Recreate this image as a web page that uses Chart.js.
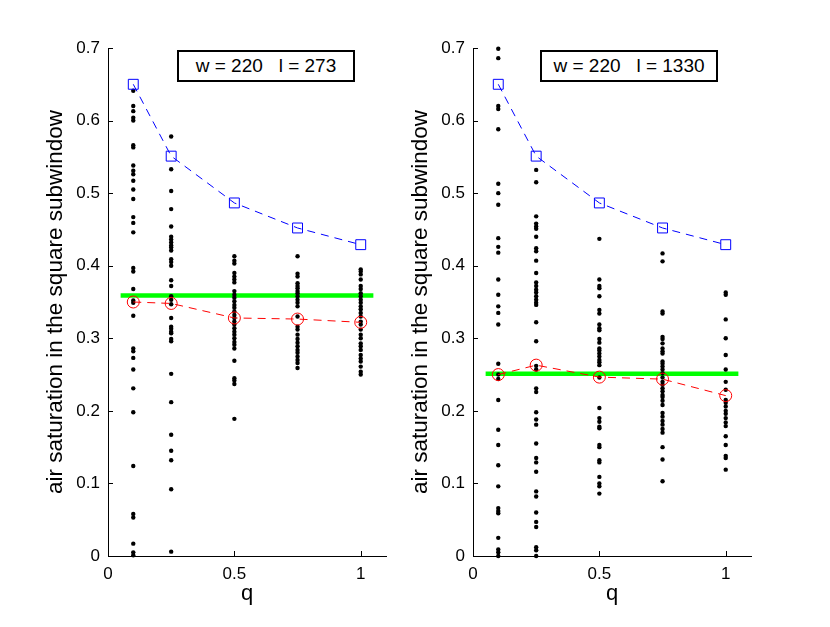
<!DOCTYPE html>
<html>
<head>
<meta charset="utf-8">
<script src="https://cdn.jsdelivr.net/npm/chart.js@4.4.0/dist/chart.umd.min.js"></script>
<style>
  body { margin: 0; background: #fff; }
  #wrap { position: relative; width: 830px; height: 627px; }
  #wrap canvas { position: absolute; left: 0; top: 0; }
  .box {
    position: absolute; top: 50px; height: 32px; width: 178px;
    box-sizing: border-box; border: 2px solid #000; background: #fff;
    font: 19px "Liberation Sans", Arial, sans-serif; line-height: 28px;
    text-align: center; white-space: pre; z-index: 5;
  }
</style>
</head>
<body>
<div id="wrap">
  <canvas id="leftChart" width="830" height="627"></canvas>
  <canvas id="rightChart" width="830" height="627"></canvas>
  <div class="box" style="left:177px">w = 220   l = 273</div>
  <div class="box" style="left:540px">w = 220   l = 1330</div>
</div>
<script>
const qValues = [0.1, 0.25, 0.5, 0.75, 1];
const xTicks = [0, 0.5, 1];
const yTicks = [0, 0.1, 0.2, 0.3, 0.4, 0.5, 0.6, 0.7];

// upper curve (squares), same in both panels
const maxCurve = [0.650, 0.551, 0.4865, 0.452, 0.429];

// means (circles)
const meansLeft = [0.350, 0.348, 0.328, 0.3265, 0.322];
const meansRight = [0.250, 0.263, 0.2465, 0.2437, 0.221];

// green reference level
const levelLeft = 0.359;
const levelRight = 0.251;
const levelSpan = [0.05, 1.05];

// sample values per q, left panel (l = 273)
const samplesLeft = [
  [0.641, 0.620, 0.613, 0.604, 0.600, 0.566, 0.563, 0.538, 0.531, 0.526, 0.517, 0.505, 0.492, 0.467, 0.459, 0.446,
   0.397, 0.392, 0.368, 0.352, 0.349, 0.331, 0.286, 0.282, 0.273, 0.257, 0.231, 0.198, 0.124, 0.058, 0.053, 0.017, 0.005, 0.001],
  [0.578, 0.533, 0.503, 0.478, 0.454, 0.440, 0.436, 0.432, 0.428, 0.425, 0.421, 0.409, 0.405, 0.400, 0.380, 0.372,
   0.358, 0.353, 0.347, 0.328, 0.316, 0.313, 0.309, 0.307, 0.299, 0.296, 0.251, 0.212, 0.167, 0.145, 0.132, 0.092, 0.006],
  [0.413, 0.407, 0.403, 0.390, 0.385, 0.381, 0.377, 0.365, 0.360, 0.356, 0.351, 0.346, 0.342, 0.337, 0.332, 0.328,
   0.323, 0.319, 0.314, 0.309, 0.305, 0.300, 0.295, 0.291, 0.286, 0.269, 0.245, 0.242, 0.237, 0.189],
  [0.413, 0.389, 0.385, 0.376, 0.372, 0.369, 0.365, 0.362, 0.358, 0.353, 0.349, 0.344, 0.330, 0.316, 0.312, 0.305,
   0.299, 0.294, 0.289, 0.284, 0.280, 0.275, 0.270, 0.266, 0.259],
  [0.395, 0.392, 0.388, 0.381, 0.372, 0.368, 0.362, 0.358, 0.353, 0.349, 0.344, 0.340, 0.335, 0.330, 0.323, 0.319,
   0.312, 0.305, 0.300, 0.293, 0.289, 0.284, 0.277, 0.272, 0.268, 0.261, 0.254, 0.250]
];

// sample values per q, right panel (l = 1330)
const samplesRight = [
  [0.699, 0.686, 0.620, 0.616, 0.588, 0.513, 0.500, 0.484, 0.438, 0.426, 0.418, 0.381, 0.360, 0.344, 0.335, 0.319,
   0.265, 0.250, 0.244, 0.215, 0.174, 0.153, 0.125, 0.096, 0.066, 0.062, 0.059, 0.025, 0.009, 0.005, 0.0],
  [0.532, 0.515, 0.468, 0.458, 0.454, 0.451, 0.440, 0.424, 0.420, 0.407, 0.390, 0.377, 0.372, 0.367, 0.363, 0.358,
   0.353, 0.349, 0.346, 0.322, 0.296, 0.262, 0.257, 0.231, 0.226, 0.198, 0.188, 0.181, 0.155, 0.135, 0.129, 0.116,
   0.089, 0.082, 0.060, 0.047, 0.040, 0.012, 0.008, 0.0],
  [0.437, 0.381, 0.372, 0.369, 0.358, 0.339, 0.334, 0.319, 0.314, 0.311, 0.299, 0.294, 0.286, 0.283, 0.279, 0.275,
   0.270, 0.267, 0.263, 0.246, 0.204, 0.190, 0.185, 0.178, 0.176, 0.153, 0.150, 0.132, 0.129, 0.109, 0.100, 0.096, 0.086],
  [0.417, 0.406, 0.337, 0.334, 0.302, 0.299, 0.293, 0.286, 0.282, 0.279, 0.268, 0.265, 0.261, 0.257, 0.252, 0.246,
   0.240, 0.236, 0.231, 0.227, 0.222, 0.219, 0.214, 0.208, 0.197, 0.192, 0.186, 0.181, 0.175, 0.170, 0.150, 0.133, 0.103],
  [0.363, 0.360, 0.326, 0.300, 0.277, 0.257, 0.240, 0.229, 0.215, 0.211, 0.206, 0.200, 0.196, 0.190, 0.184, 0.179,
   0.165, 0.153, 0.138, 0.135, 0.119]
];

Chart.defaults.font.family = '"Liberation Sans", Arial, sans-serif';
Chart.defaults.color = '#000';

// matlab style ticks pointing into the plot
const inwardTicks = {
  id: 'inwardTicks',
  afterDraw(chart) {
    const { ctx, chartArea, scales } = chart;
    ctx.save();
    ctx.strokeStyle = '#000';
    ctx.lineWidth = 1;
    scales.x.ticks.forEach(t => {
      const px = Math.round(scales.x.getPixelForValue(t.value)) + 0.5;
      ctx.beginPath();
      ctx.moveTo(px, chartArea.bottom);
      ctx.lineTo(px, chartArea.bottom - 5);
      ctx.stroke();
    });
    scales.y.ticks.forEach(t => {
      const py = Math.round(scales.y.getPixelForValue(t.value)) + 0.5;
      ctx.beginPath();
      ctx.moveTo(chartArea.left, py);
      ctx.lineTo(chartArea.left + 5, py);
      ctx.stroke();
    });
    ctx.restore();
  }
};

function drawPanel(id, padLeft, padRight, samples, means, level) {
  const dots = [];
  samples.forEach((list, i) => list.forEach(v => dots.push({ x: qValues[i], y: v })));

  new Chart(document.getElementById(id), {
    type: 'scatter',
    data: {
      datasets: [
        {
          data: qValues.map((q, i) => ({ x: q, y: means[i] })),
          showLine: true, borderColor: '#ff0000', borderWidth: 1, borderDash: [8, 6],
          pointStyle: 'circle', pointRadius: 6, pointBorderWidth: 1,
          pointBorderColor: '#ff0000', pointBackgroundColor: 'rgba(0,0,0,0)', clip: false
        },
        {
          data: qValues.map((q, i) => ({ x: q, y: maxCurve[i] })),
          showLine: true, borderColor: '#0000ff', borderWidth: 1, borderDash: [8, 6],
          pointStyle: 'rect', pointRadius: 7, pointBorderWidth: 1,
          pointBorderColor: '#0000ff', pointBackgroundColor: 'rgba(0,0,0,0)', clip: false
        },
        {
          data: dots,
          pointRadius: 2.2, pointBorderWidth: 0, pointBackgroundColor: '#000', clip: false
        },
        {
          data: levelSpan.map(x => ({ x, y: level })),
          showLine: true, borderColor: '#00ff00', borderWidth: 4.5, pointRadius: 0
        }
      ]
    },
    options: {
      responsive: false,
      animation: false,
      devicePixelRatio: 1,
      layout: { padding: { left: padLeft, right: padRight, top: 48, bottom: 0 } },
      plugins: { legend: { display: false }, tooltip: { enabled: false } },
      scales: {
        x: {
          type: 'linear', min: 0, max: 1.1,
          afterBuildTicks: s => { s.ticks = xTicks.map(v => ({ value: v })); },
          afterFit: s => { s.height = 71; },
          grid: { display: false, drawTicks: false },
          border: { display: true, color: '#000', width: 1 },
          ticks: { padding: 8, font: { size: 17 }, maxRotation: 0, autoSkip: false, callback: v => String(v) },
          title: { display: true, text: 'q', font: { size: 22 }, padding: { top: 0, bottom: 20 } }
        },
        y: {
          type: 'linear', min: 0, max: 0.7,
          afterBuildTicks: s => { s.ticks = yTicks.map(v => ({ value: v })); },
          afterFit: s => { s.width = 108; },
          grid: { display: false, drawTicks: false },
          border: { display: true, color: '#000', width: 1 },
          ticks: { padding: 8, font: { size: 17 }, autoSkip: false, callback: v => String(Math.round(v * 10) / 10) },
          title: { display: true, text: 'air saturation in the square subwindow', font: { size: 22.5 }, padding: { top: 42, bottom: 0 } }
        }
      }
    },
    plugins: [inwardTicks]
  });
}

drawPanel('leftChart', 0, 444, samplesLeft, meansLeft, levelLeft);
drawPanel('rightChart', 365, 79, samplesRight, meansRight, levelRight);
</script>
</body>
</html>
